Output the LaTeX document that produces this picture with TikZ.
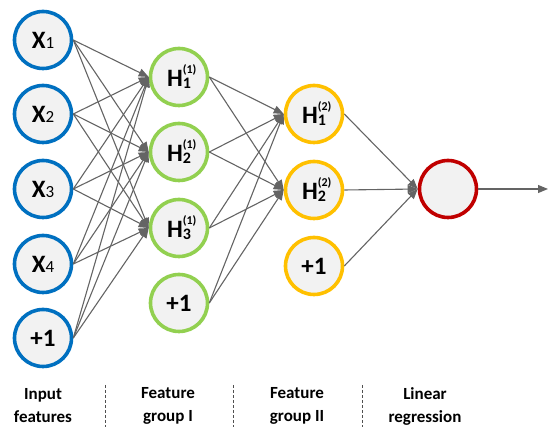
\documentclass[tikz,border=0pt]{standalone}
\usepackage{fontspec}
\setmainfont{Carlito}
\usetikzlibrary{arrows.meta}

\definecolor{inblue}{RGB}{0,112,192}
\definecolor{hgreen}{RGB}{146,208,80}
\definecolor{hyellow}{RGB}{255,192,0}
\definecolor{outred}{RGB}{192,0,0}
\definecolor{nodefill}{RGB}{242,242,242}
\definecolor{wire}{RGB}{100,100,100}

\newcommand{\xin}[1]{X{\mdseries\fontsize{17}{17}\selectfont #1}}
\newcommand{\hid}[2]{H\makebox[0pt][l]{\raisebox{13pt}{\fontsize{12}{12}\selectfont(#2)}}\raisebox{-2pt}{\fontsize{16}{16}\selectfont #1}}

\tikzset{
  neuron/.style={circle,line width=3.6pt,fill=nodefill,minimum size=57pt,inner sep=0pt,
    font=\bfseries\fontsize{25}{25}\selectfont},
  wirearrow/.style={draw=wire,line width=1.1pt,-{Triangle[length=10pt,width=8pt]}},
  caption/.style={align=center,inner sep=1pt,font=\bfseries\fontsize{17}{23}\selectfont},
}

\begin{document}
\begin{tikzpicture}[x=1pt,y=-1pt]
\useasboundingbox (0,0) rectangle (550,427);

\node[neuron,draw=inblue] (x1) at (43,40) {\xin{1}};
\node[neuron,draw=inblue] (x2) at (43,114) {\xin{2}};
\node[neuron,draw=inblue] (x3) at (43,189) {\xin{3}};
\node[neuron,draw=inblue] (x4) at (43,264) {\xin{4}};
\node[neuron,draw=inblue] (x5) at (43,338) {+1};

\node[neuron,draw=hgreen] (h1) at (179,77) {\hid{1}{1}};
\node[neuron,draw=hgreen] (h2) at (179,152) {\hid{2}{1}};
\node[neuron,draw=hgreen] (h3) at (179,228) {\hid{3}{1}};
\node[neuron,draw=hgreen] (h4) at (179,303) {+1};

\node[neuron,draw=hyellow] (g1) at (314,114) {\hid{1}{2}};
\node[neuron,draw=hyellow] (g2) at (314,190) {\hid{2}{2}};
\node[neuron,draw=hyellow] (g3) at (314,266) {+1};

\node[neuron,draw=outred] (y) at (448,189) {};
\coordinate (yend) at (548,189);

\foreach \s in {x1,x2,x3,x4,x5}
  \foreach \t in {h1,h2,h3}
    \path[wirearrow] (\s.east) -- (\t.west);
\foreach \s in {h1,h2,h3,h4}
  \foreach \t in {g1,g2}
    \path[wirearrow] (\s.east) -- (\t.west);
\foreach \s in {g1,g2,g3}
  \path[wirearrow] (\s.east) -- (y.west);
\path[wirearrow] (y.east) -- (yend);

% column captions
\node[caption] (c1) at (43,406) {Input\\features};
\node[caption] (c2) at (168,406) {Feature\\group I};
\node[caption] (c3) at (297,406) {Feature\\group II};
\node[caption] (c4) at (425,406) {Linear\\regression};

\foreach \xx in {105,233,362}
  \draw[wire!80!black,line width=0.9pt,dash pattern=on 3pt off 2pt] (\xx,385) -- (\xx,427);

\end{tikzpicture}
\end{document}
